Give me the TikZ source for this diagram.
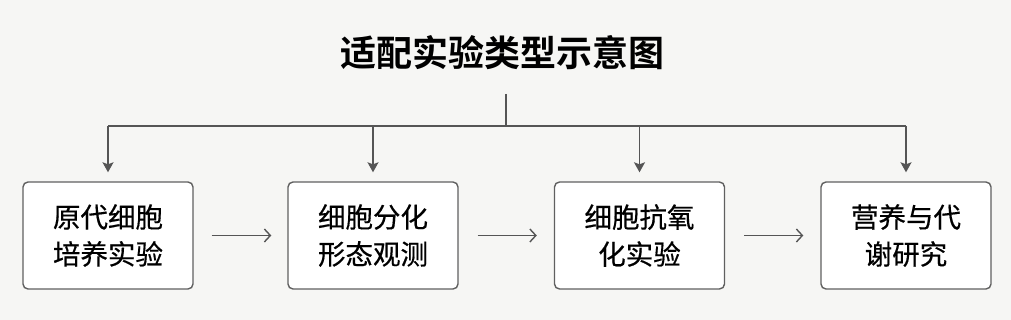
\documentclass[tikz,border=0pt]{standalone}
\usepackage{fontspec}
\newfontfamily\cjk[FakeBold=0.5]{Noto Sans CJK SC}
\newfontfamily\cjkbold{Noto Sans CJK SC Bold}
\usetikzlibrary{arrows.meta}
\definecolor{bg}{HTML}{F6F6F4}
\definecolor{ln}{HTML}{555555}
\definecolor{bd}{HTML}{606060}
\tikzset{
  stepbox/.style={draw=bd, line width=1.4pt, fill=white, rounded corners=5pt,
    minimum width=170pt, minimum height=107pt, inner sep=0pt,
    font=\cjk\fontsize{27.5}{37}\selectfont, align=center, text=black},
  conn/.style={draw=ln, line width=1.4pt},
  downarr/.style={conn, -{Stealth[length=10pt,width=11pt,inset=2pt]}},
  sidearr/.style={conn, -{Straight Barb[length=6pt,width=13pt]}},
}
\begin{document}
\begin{tikzpicture}[x=1pt,y=1pt]
\fill[bg] (0,0) rectangle (1011,-320);
\useasboundingbox (0,0) rectangle (1011,-320);
\node[font=\cjkbold\fontsize{36}{40}\selectfont] (title) at (502,-53) {适配实验类型示意图};
\node[stepbox] (b1) at (108,-235.5) {原代细胞\\培养实验};
\node[stepbox] (b2) at (373,-235.5) {细胞分化\\形态观测};
\node[stepbox] (b3) at (639.5,-235.5) {细胞抗氧\\化实验};
\node[stepbox] (b4) at (906,-235.5) {营养与代\\谢研究};
\coordinate (top) at (506,-94);
\coordinate (hub) at (506,-126);
\draw[conn] (top) -- (hub);
\draw[conn] (b1.north |- hub) -- (b4.north |- hub);
\foreach \b in {b1,b2,b3,b4}
  \draw[downarr] (\b.north |- hub) -- ([yshift=9pt]\b.north);
\draw[sidearr] ([xshift=18pt]b1.east) -- ([xshift=-16pt]b2.west);
\draw[sidearr] ([xshift=19pt]b2.east) -- ([xshift=-17pt]b3.west);
\draw[sidearr] ([xshift=19pt]b3.east) -- ([xshift=-17pt]b4.west);
\end{tikzpicture}
\end{document}
